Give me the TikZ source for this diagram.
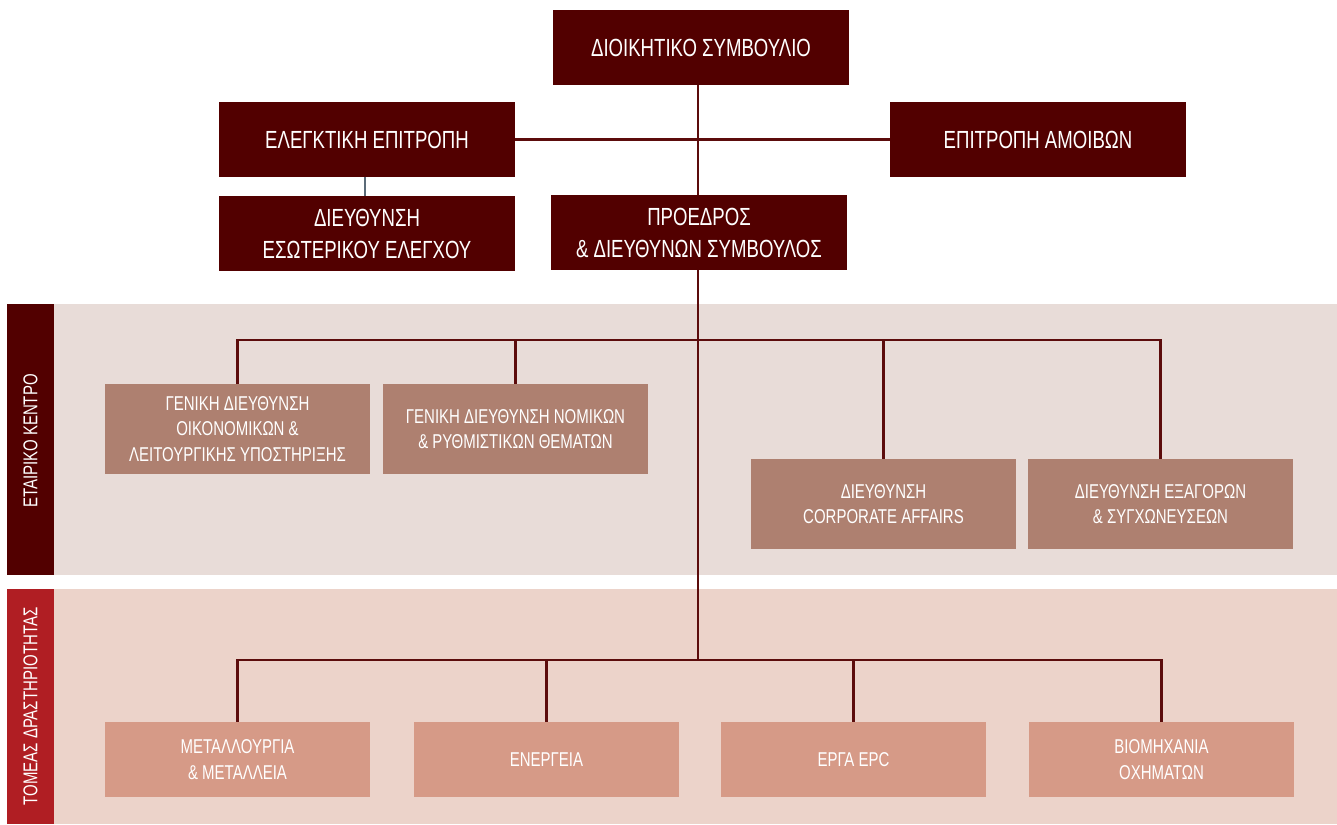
\documentclass[tikz,border=0pt]{standalone}
\usepackage{fontspec}
\setmainfont{Liberation Sans}[FakeStretch=0.75]
\usepackage{tikz}

\definecolor{maroon}{HTML}{520000}
\definecolor{barred}{HTML}{B01E23}
\definecolor{bandA}{HTML}{E8DCD8}
\definecolor{bandB}{HTML}{ECD3CA}
\definecolor{boxA}{HTML}{AE8070}
\definecolor{boxB}{HTML}{D69A87}
\definecolor{wire}{HTML}{5C0C0C}
\definecolor{slate}{HTML}{5B6B78}

\tikzset{
  top/.style={fill=maroon, text=white, minimum width=148pt, minimum height=37.5pt,
    align=center, inner sep=0pt, font=\fontsize{12.4}{16}\selectfont},
  corp/.style={fill=boxA, text=white, minimum width=132.5pt, minimum height=45pt,
    align=center, inner sep=0pt, font=\fontsize{10}{12.8}\selectfont},
  sect/.style={fill=boxB, text=white, minimum width=132.5pt, minimum height=37.5pt,
    align=center, inner sep=0pt, font=\fontsize{10}{13}\selectfont},
  side/.style={text=white, rotate=90, font=\fontsize{10}{12}\selectfont},
  conn/.style={wire, line width=1.3pt}
}

\begin{document}
\begin{tikzpicture}[x=0.5pt,y=-0.5pt]
\useasboundingbox (0,0) rectangle (1337,824);

% bands
\fill[bandA] (54,304) rectangle (1337,575);
\fill[maroon] (7,304) rectangle (54,575);
\fill[bandB] (54,589) rectangle (1337,824);
\fill[barred] (7,589) rectangle (54,824);
\node[side] (bandcorp) at (30.5,441) {ΕΤΑΙΡΙΚΟ ΚΕΝΤΡΟ};
\node[side] (bandsect) at (30.5,706.5) {ΤΟΜΕΑΣ ΔΡΑΣΤΗΡΙΟΤΗΤΑΣ};

% board and committees
\node[top] (board) at (701,47.5) {ΔΙΟΙΚΗΤΙΚΟ ΣΥΜΒΟΥΛΙΟ};
\node[top] (audit) at (367,139.5) {ΕΛΕΓΚΤΙΚΗ ΕΠΙΤΡΟΠΗ};
\node[top] (remun) at (1038,139.5) {ΕΠΙΤΡΟΠΗ ΑΜΟΙΒΩΝ};
\node[top] (intaudit) at (367,233.5) {ΔΙΕΥΘΥΝΣΗ\\ΕΣΩΤΕΡΙΚΟΥ ΕΛΕΓΧΟΥ};
\node[top] (ceo) at (699,232.5) {ΠΡΟΕΔΡΟΣ\\\& ΔΙΕΥΘΥΝΩΝ ΣΥΜΒΟΥΛΟΣ};

% corporate centre
\node[corp] (fin) at (237.5,429) {ΓΕΝΙΚΗ ΔΙΕΥΘΥΝΣΗ\\ΟΙΚΟΝΟΜΙΚΩΝ \&\\ΛΕΙΤΟΥΡΓΙΚΗΣ ΥΠΟΣΤΗΡΙΞΗΣ};
\node[corp] (legal) at (515.5,429) {ΓΕΝΙΚΗ ΔΙΕΥΘΥΝΣΗ ΝΟΜΙΚΩΝ\\\& ΡΥΘΜΙΣΤΙΚΩΝ ΘΕΜΑΤΩΝ};
\node[corp] (affairs) at (883.5,504) {ΔΙΕΥΘΥΝΣΗ\\CORPORATE AFFAIRS};
\node[corp] (mna) at (1160.5,504) {ΔΙΕΥΘΥΝΣΗ ΕΞΑΓΟΡΩΝ\\\& ΣΥΓΧΩΝΕΥΣΕΩΝ};

% sectors
\node[sect] (metal) at (237.5,759.5) {ΜΕΤΑΛΛΟΥΡΓΙΑ\\\& ΜΕΤΑΛΛΕΙΑ};
\node[sect] (energy) at (546.5,759.5) {ΕΝΕΡΓΕΙΑ};
\node[sect] (epc) at (853.5,759.5) {ΕΡΓΑ EPC};
\node[sect] (auto) at (1161.5,759.5) {ΒΙΟΜΗΧΑΝΙΑ\\ΟΧΗΜΑΤΩΝ};

\coordinate (hubA) at (698,340);
\coordinate (hubB) at (698,660);

% connectors
\draw[conn] (audit.east) -- (remun.west);
\draw[conn] (board.south -| hubA) -- (ceo.north -| hubA);
\draw[conn] (ceo.south -| hubA) -- (hubB);
\draw[slate, line width=1.3pt] ([xshift=-1pt]audit.south) -- ([xshift=-1pt]intaudit.north);
\foreach \n in {fin,legal,affairs,mna} {
\draw[conn] (\n.north) |- (hubA);
}
\foreach \n in {metal,energy,epc,auto} {
\draw[conn] (\n.north) |- (hubB);
}

\end{tikzpicture}
\end{document}
